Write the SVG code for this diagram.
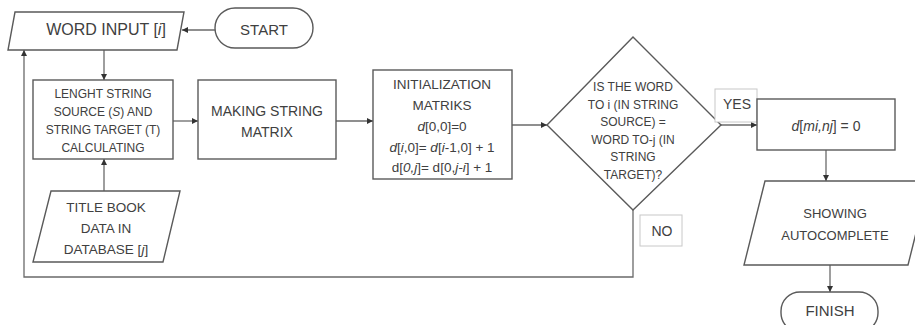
<svg xmlns="http://www.w3.org/2000/svg" width="915" height="325" viewBox="0 0 915 325">
<defs>
<marker id="arr" markerWidth="6" markerHeight="6" refX="6" refY="3" orient="auto" markerUnits="userSpaceOnUse">
<path d="M0,0 L6,3 L0,6 z" fill="#333"/>
</marker>
<style>
.sh{fill:#fff;stroke:#5a5a5a;stroke-width:1.4}
.lb{fill:#fff;stroke:#c8c8c8;stroke-width:1}
.t{font-family:"Liberation Sans",Arial,sans-serif;fill:#404040;text-anchor:middle}
.c{fill:none;stroke:#6a6a6a;stroke-width:1.3}
.it{font-style:italic}
</style>
</defs>
<rect width="915" height="325" fill="#fff"/>
<g id="connectors">
<line class="c" x1="215" y1="30" x2="182" y2="30" marker-end="url(#arr)"/>
<line class="c" x1="104" y1="50" x2="104" y2="80" marker-end="url(#arr)"/>
<line class="c" x1="104" y1="191" x2="104" y2="159" marker-end="url(#arr)"/>
<line class="c" x1="173" y1="121" x2="198" y2="121" marker-end="url(#arr)"/>
<line class="c" x1="336" y1="121" x2="373" y2="121" marker-end="url(#arr)"/>
<line class="c" x1="512" y1="125" x2="547" y2="125" marker-end="url(#arr)"/>
<line class="c" x1="721" y1="125" x2="757" y2="125" marker-end="url(#arr)"/>
<line class="c" x1="826" y1="150" x2="826" y2="181" marker-end="url(#arr)"/>
<line class="c" x1="830" y1="265" x2="830" y2="292" marker-end="url(#arr)"/>
<path class="c" d="M633,210 V277 H24 V50" marker-end="url(#arr)"/>
</g>
<g id="start">
<rect class="sh" x="215" y="8" width="98" height="40" rx="20"/>
<text class="t" x="264" y="34.5" font-size="15">START</text>
</g>
<g id="word-input">
<polygon class="sh" points="15,12 184,12 177,50 8,50"/>
<text class="t" x="106" y="34.7" font-size="16">WORD INPUT [<tspan class="it">i</tspan>]</text>
</g>
<g id="length">
<rect class="sh" x="33" y="80" width="140" height="79"/>
<text class="t" font-size="12"><tspan x="103" y="98.3">LENGHT STRING</tspan><tspan x="103" y="116.3">SOURCE (<tspan class="it">S</tspan>) AND</tspan><tspan x="103" y="134.3">STRING TARGET (T)</tspan><tspan x="103" y="152.3">CALCULATING</tspan></text>
</g>
<g id="title-book">
<polygon class="sh" points="51,191 180,191 163,262 33,262"/>
<text class="t" font-size="13.5"><tspan x="106" y="211.8">TITLE BOOK</tspan><tspan x="106" y="232.8">DATA IN</tspan><tspan x="106" y="253.8">DATABASE [<tspan class="it">j</tspan>]</tspan></text>
</g>
<g id="making-matrix">
<rect class="sh" x="198" y="80" width="138" height="79"/>
<text class="t" font-size="14"><tspan x="267" y="116">MAKING STRING</tspan><tspan x="267" y="137">MATRIX</tspan></text>
</g>
<g id="initialization">
<rect class="sh" x="373" y="70" width="139" height="109"/>
<text class="t" font-size="13.5"><tspan x="442" y="88.8">INITIALIZATION</tspan><tspan x="442" y="109.8">MATRIKS</tspan><tspan x="442" y="130.8"><tspan class="it">d</tspan>[0,0]=0</tspan><tspan x="442" y="151.8"><tspan class="it">d</tspan>[<tspan class="it">i</tspan>,0]= <tspan class="it">d</tspan>[<tspan class="it">i</tspan>-1,0] + 1</tspan><tspan x="442" y="171.8">d[<tspan class="it">0,j</tspan>]= d[0,<tspan class="it">j-i</tspan>] + 1</tspan></text>
</g>
<g id="decision">
<polygon class="sh" points="633,37 721,125 633,210 547,125"/>
<text class="t" font-size="12"><tspan x="633" y="91.3">IS THE WORD</tspan><tspan x="633" y="108.8">TO i (IN STRING</tspan><tspan x="633" y="126.3">SOURCE) =</tspan><tspan x="633" y="143.8">WORD TO-j (IN</tspan><tspan x="633" y="161.3">STRING</tspan><tspan x="633" y="178.8">TARGET)?</tspan></text>
</g>
<g id="yes-label">
<rect class="lb" x="715" y="89" width="42" height="33"/>
<text class="t" x="737" y="109" font-size="14">YES</text>
</g>
<g id="no-label">
<rect class="lb" x="640" y="215" width="42" height="31"/>
<text class="t" x="662" y="236" font-size="14">NO</text>
</g>
<g id="d-zero">
<rect class="sh" x="757" y="99" width="138" height="51"/>
<text class="t" x="826" y="131" font-size="14"><tspan class="it">d</tspan>[<tspan class="it">mi,nj</tspan>] = 0</text>
</g>
<g id="showing">
<polygon class="sh" points="765,181 929,181 908,265 744,265"/>
<text class="t" font-size="13"><tspan x="835" y="217.7">SHOWING</tspan><tspan x="835" y="239.7">AUTOCOMPLETE</tspan></text>
</g>
<g id="finish">
<rect class="sh" x="781" y="292" width="97" height="40" rx="19"/>
<text class="t" x="830" y="316" font-size="15">FINISH</text>
</g>
</svg>
